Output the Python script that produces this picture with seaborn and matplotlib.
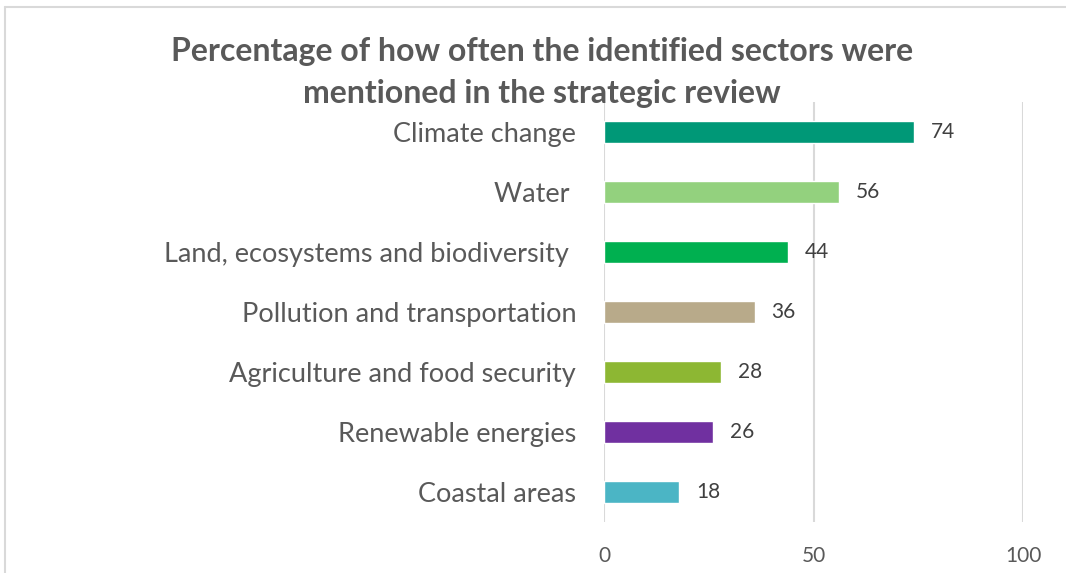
import matplotlib
matplotlib.use('Agg')
import matplotlib.pyplot as plt
import seaborn as sb
from matplotlib.lines import Line2D

sectors = ['Climate change', 'Water ', 'Land, ecosystems and biodiversity ',
           'Pollution and transportation', 'Agriculture and food security',
           'Renewable energies', 'Coastal areas']
percent = [74, 56, 44, 36, 28, 26, 18]
bar_colors = ['#009877', '#93D17E', '#00B050', '#B8AA8A', '#8DB733', '#7030A0', '#4BB5C5']
x_ticks = [0, 50, 100]

FONT = 'Lato'
GREY = '#595959'


def main():
    sb.set_style('white')
    plt.rcParams['font.family'] = [FONT, 'DejaVu Sans']

    fig = plt.figure(figsize=(10.66, 5.73), dpi=100)
    ax = fig.add_axes([604 / 1066, 1 - 522 / 573, (1023 - 604) / 1066, (522 - 102) / 573])

    sb.barplot(x=percent, y=sectors, hue=sectors, palette=bar_colors, legend=False,
               width=0.367, ax=ax, saturation=1)

    for cont in ax.containers:
        ax.bar_label(cont, padding=12, fontsize=15, color='#404040')

    ax.set_xlim(0, 100)
    ax.set_xticks(x_ticks)
    ax.tick_params(axis='x', labelsize=15, colors=GREY, length=0, pad=17)
    ax.tick_params(axis='y', labelsize=19.5, colors=GREY, length=0, pad=20)
    ax.xaxis.grid(True, color='#d9d9d9', linewidth=1.5)
    ax.set_axisbelow(True)
    for s in ax.spines.values():
        s.set_visible(False)
    ax.set_xlabel('')
    ax.set_ylabel('')

    fig.text(542 / 1066, 1 - 51 / 573, 'Percentage of how often the identified sectors were',
             ha='center', va='center', fontsize=23, fontweight='bold', color=GREY)
    fig.text(542 / 1066, 1 - 93 / 573, 'mentioned in the strategic review',
             ha='center', va='center', fontsize=23, fontweight='bold', color=GREY)

    # chart frame (partly cropped in the original)
    fig.add_artist(Line2D([5 / 1066, 5 / 1066], [0, 1 - 7 / 573], color='#d9d9d9', lw=1.5))
    fig.add_artist(Line2D([5 / 1066, 1], [1 - 7 / 573, 1 - 7 / 573], color='#d9d9d9', lw=1.5))

    fig.savefig('out.png', dpi=100)


if __name__ == '__main__':
    main()
